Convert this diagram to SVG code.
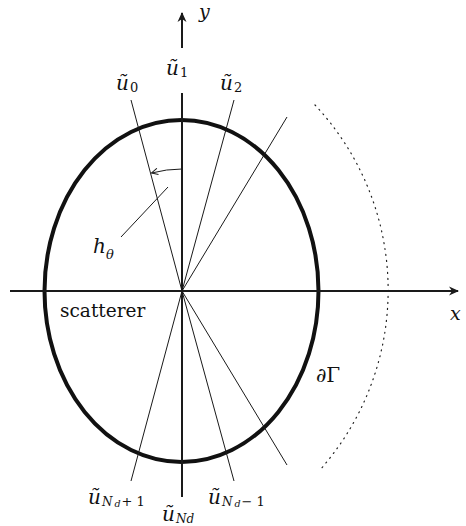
<svg xmlns="http://www.w3.org/2000/svg" width="466" height="526" viewBox="0 0 466 526">
<style>
.t{font-family:'DejaVu Serif','Liberation Serif',serif;fill:#111}
.i{font-style:italic}
.ax{stroke:#1a1a1a;stroke-width:2;fill:none}
.thin{stroke:#1a1a1a;stroke-width:1;fill:none}
</style>
<defs>
<marker id="ah" viewBox="0 0 10 10" refX="9" refY="5" markerWidth="10" markerHeight="10" markerUnits="userSpaceOnUse" orient="auto">
<path d="M0,0.5 L10,5 L0,9.5 L3,5 Z" fill="#1a1a1a"/>
</marker>
<marker id="oh" viewBox="0 0 10 10" refX="9" refY="5" markerWidth="8" markerHeight="8" markerUnits="userSpaceOnUse" orient="auto">
<path d="M1,1 L9,5 L1,9" fill="none" stroke="#1a1a1a" stroke-width="1.2"/>
</marker>
</defs>
<g id="scatterer">
<ellipse cx="181.5" cy="291" rx="137" ry="171" fill="none" stroke="#111" stroke-width="4"/>
<text class="t" x="60" y="317" font-size="18.5">scatterer</text>
</g>
<g id="boundary">
<path d="M315,105 A271,271 0 0 1 319,471" fill="none" stroke="#222" stroke-width="1.2" stroke-dasharray="1 5" stroke-linecap="round"/>
<text class="t" x="316" y="382" font-size="20">∂Γ</text>
</g>
<g id="connectors">
<line class="ax" x1="10" y1="291" x2="458" y2="291" marker-end="url(#ah)"/>
<line class="ax" x1="182" y1="48" x2="182" y2="13" marker-end="url(#ah)"/>
<line class="ax" x1="182" y1="93" x2="182" y2="497"/>
<line class="thin" x1="131" y1="100" x2="182" y2="291"/>
<line class="thin" x1="234" y1="100" x2="182" y2="291"/>
<line class="thin" x1="287" y1="117" x2="182" y2="291"/>
<line class="thin" x1="131" y1="481" x2="182" y2="291"/>
<line class="thin" x1="234" y1="481" x2="182" y2="291"/>
<line class="thin" x1="287" y1="465" x2="182" y2="291"/>
<path class="thin" d="M182,169 A122,122 0 0 0 151.5,173" marker-end="url(#oh)"/>
<line class="thin" x1="168" y1="187" x2="121" y2="237"/>
</g>
<g id="axis-labels">
<text class="t i" x="199" y="18" font-size="19">y</text>
<text class="t i" x="450" y="320" font-size="19">x</text>
</g>
<g id="u0"><text class="t i" x="116" y="90" font-size="20">ũ<tspan font-style="normal" font-size="13" dy="2" dx="1">0</tspan></text></g>
<g id="u1"><text class="t i" x="166" y="75" font-size="20">ũ<tspan font-style="normal" font-size="13" dy="2" dx="1">1</tspan></text></g>
<g id="u2"><text class="t i" x="220" y="90" font-size="20">ũ<tspan font-style="normal" font-size="13" dy="2" dx="1">2</tspan></text></g>
<g id="h-theta"><text class="t i" x="93" y="253" font-size="20">h<tspan font-size="13" dy="6" dx="0">θ</tspan></text></g>
<g id="u-Nd-plus-1"><text class="t i" x="88" y="504" font-size="20">ũ<tspan font-size="12" dy="2" dx="1">N</tspan><tspan font-size="9.5" dy="1" dx="2">d</tspan><tspan font-style="normal" font-size="13" dy="-1" dx="1">+ 1</tspan></text></g>
<g id="u-Nd"><text class="t i" x="162" y="521" font-size="20">ũ<tspan font-size="12" dy="2" dx="1">Nd</tspan></text></g>
<g id="u-Nd-minus-1"><text class="t i" x="208" y="504" font-size="20">ũ<tspan font-size="12" dy="2" dx="1">N</tspan><tspan font-size="9.5" dy="1" dx="2">d</tspan><tspan font-style="normal" font-size="13" dy="-1" dx="1">− 1</tspan></text></g>
</svg>
